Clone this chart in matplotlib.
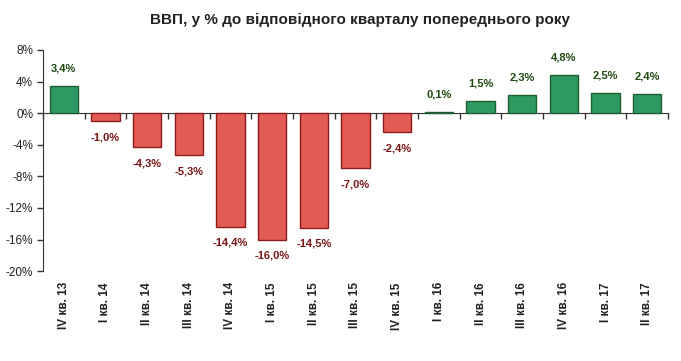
import matplotlib
matplotlib.use("Agg")
import matplotlib.pyplot as plt
import matplotlib.transforms as mtransforms
import numpy as np

plt.rcParams['font.family'] = ['Liberation Sans', 'DejaVu Sans']

categories = ["IV кв. 13", "I кв. 14", "II кв. 14", "III кв. 14", "IV кв. 14",
              "I кв. 15", "II кв. 15", "III кв. 15", "IV кв. 15",
              "I кв. 16", "II кв. 16", "III кв. 16", "IV кв. 16",
              "I кв. 17", "II кв. 17"]
values = [3.4, -1.0, -4.3, -5.3, -14.4, -16.0, -14.5, -7.0, -2.4,
          0.1, 1.5, 2.3, 4.8, 2.5, 2.4]
value_labels = ["3,4%", "-1,0%", "-4,3%", "-5,3%", "-14,4%", "-16,0%", "-14,5%",
                "-7,0%", "-2,4%", "0,1%", "1,5%", "2,3%", "4,8%", "2,5%", "2,4%"]
y_ticks = [8, 4, 0, -4, -8, -12, -16, -20]
title = "ВВП, у % до відповідного кварталу попереднього року"

pos_color = "#2E9A62"
neg_color = "#E35B55"
pos_edge = "#1E5E32"
neg_edge = "#8B1A1A"
pos_text = "#1F4A10"
neg_text = "#7A1515"

fig = plt.figure(figsize=(6.81, 3.61), dpi=100)
ax = fig.add_axes([0.063, 0.249, 0.918, 0.6125])

x = np.arange(len(categories))
colors = [pos_color if v >= 0 else neg_color for v in values]
edges = [pos_edge if v >= 0 else neg_edge for v in values]
ax.bar(x, values, width=0.68, color=colors, edgecolor=edges, linewidth=1.0, zorder=3)

for xi, v, lab in zip(x, values, value_labels):
    if v >= 0:
        ax.annotate(lab, (xi, v), xytext=(0, 9), textcoords="offset points",
                    ha="center", va="bottom", fontsize=8, fontweight="bold",
                    color=pos_text)
    else:
        ax.annotate(lab, (xi, v), xytext=(0, -8), textcoords="offset points",
                    ha="center", va="top", fontsize=8, fontweight="bold",
                    color=neg_text)

ax.set_xlim(-0.5, len(categories) - 0.5)
ax.set_ylim(-20, 8)
ax.set_yticks(y_ticks)
ax.set_yticklabels([f"{t}%" for t in y_ticks], fontsize=8.5, color="#222222")
ax.tick_params(axis="y", direction="out", length=4, width=1, color="#333333", pad=3)

for s in ["top", "right"]:
    ax.spines[s].set_visible(False)
ax.spines["left"].set_color("#333333")
ax.spines["bottom"].set_position(("data", 0))
ax.spines["bottom"].set_color("#333333")

ax.set_xticks(np.arange(-0.5, len(categories), 1.0))
ax.set_xticklabels([])
ax.tick_params(axis="x", direction="out", length=4, width=1, color="#333333")

trans = mtransforms.blended_transform_factory(ax.transData, ax.transAxes)
for xi, c in zip(x, categories):
    ax.annotate(c, (xi, 0), xycoords=trans, xytext=(0, -8), textcoords="offset points",
                rotation=90, ha="center", va="top", fontsize=8.5, fontweight="bold",
                color="#222222")

fig.text(0.528, 0.945, title, ha="center", va="center", fontsize=11,
         fontweight="bold", color="#222222")

fig.savefig("out.png", dpi=100)
